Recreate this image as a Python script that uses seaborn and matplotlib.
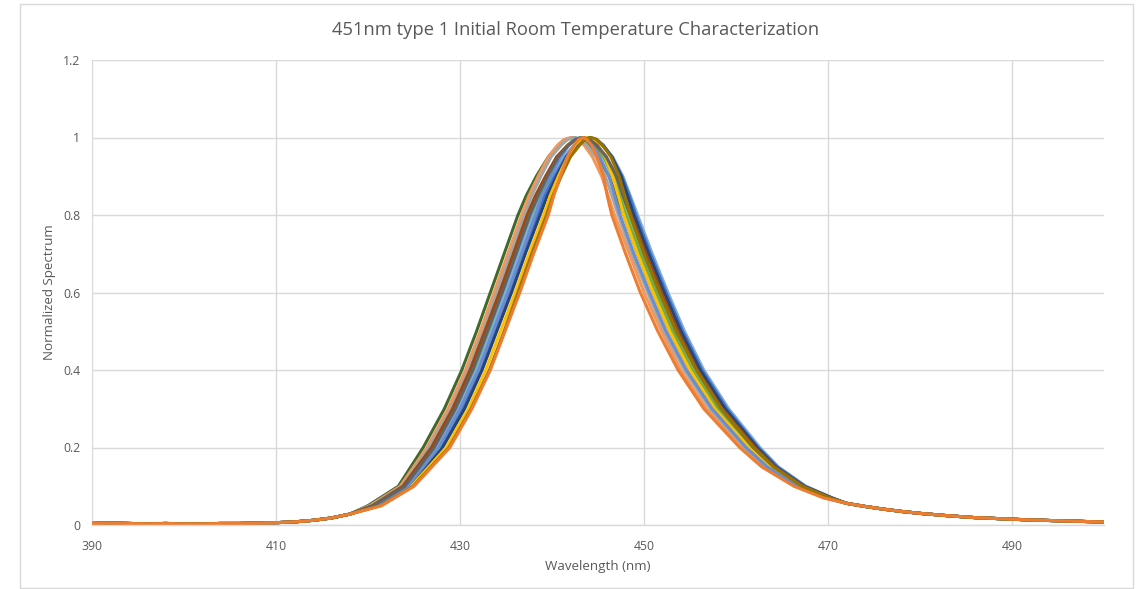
import matplotlib
matplotlib.use("Agg")
import matplotlib.pyplot as plt
import seaborn as sns
import pandas as pd

# ---- data ----
# shared tails (all spectra coincide there)
tail_left_wl = [390, 392, 394, 396, 398, 400, 402, 404, 406, 408, 410, 412, 414, 416, 418]
tail_left_v = [0.004, 0.005, 0.004, 0.003, 0.004, 0.003, 0.003, 0.004, 0.004, 0.005, 0.006, 0.008, 0.012, 0.018, 0.028]
tail_right_wl = [472, 474, 476, 478, 480, 483, 486, 489, 492, 495, 498, 500]
tail_right_v = [0.056, 0.048, 0.041, 0.035, 0.030, 0.024, 0.019, 0.016, 0.013, 0.011, 0.009, 0.008]

# normalized levels at which each spectrum's wavelength was read (rising edge, peak, falling edge)
levels = [0.05, 0.1, 0.2, 0.3, 0.4, 0.5, 0.6, 0.7, 0.8, 0.85, 0.9, 0.95, 0.98, 0.995, 1.0,
          0.995, 0.98, 0.95, 0.9, 0.85, 0.8, 0.7, 0.6, 0.5, 0.4, 0.3, 0.2, 0.15, 0.1, 0.07]

wl_s1 = [420.0, 423.3, 426.0, 428.3, 430.2, 431.8, 433.3, 434.8, 436.3, 437.2, 438.3, 439.6, 440.7, 441.5, 442.35,
         443.2, 444.0, 445.0, 446.2, 447.0, 447.8, 449.3, 451.0, 452.8, 455.0, 457.7, 461.4, 463.6, 466.9, 470.0]
wl_s2 = [420.2, 423.5, 426.4, 428.7, 430.6, 432.2, 433.7, 435.2, 436.7, 437.5, 438.5, 439.6, 440.6, 441.3, 442.05,
         442.8, 443.5, 444.4, 445.4, 446.1, 446.8, 448.4, 450.0, 451.9, 454.0, 456.8, 460.7, 463.0, 466.5, 469.6]
wl_s3 = [420.3, 423.7, 426.6, 429.0, 430.9, 432.5, 434.0, 435.5, 437.0, 437.8, 438.8, 439.9, 441.0, 441.7, 442.4,
         443.1, 443.8, 444.8, 445.8, 446.5, 447.2, 448.7, 450.4, 452.2, 454.4, 457.2, 461.0, 463.3, 466.6, 469.8]
wl_s4 = [420.5, 423.9, 427.0, 429.4, 431.3, 432.9, 434.4, 435.9, 437.5, 438.3, 439.4, 440.6, 441.7, 442.4, 443.15,
         443.9, 444.7, 445.6, 446.7, 447.5, 448.2, 449.7, 451.4, 453.2, 455.4, 458.1, 461.7, 463.9, 467.1, 470.1]
wl_s5 = [420.7, 424.1, 427.3, 429.7, 431.6, 433.2, 434.7, 436.2, 437.8, 438.6, 439.6, 440.7, 441.8, 442.5, 443.2,
         443.9, 444.6, 445.6, 446.6, 447.3, 448.0, 449.6, 451.3, 453.1, 455.2, 458.0, 461.6, 463.8, 467.0, 470.0]
wl_s6 = [420.8, 424.2, 427.5, 429.8, 431.8, 433.4, 434.9, 436.4, 438.0, 438.9, 440.0, 441.2, 442.4, 443.2, 444.0,
         444.8, 445.5, 446.6, 447.7, 448.5, 449.3, 450.9, 452.6, 454.4, 456.5, 459.2, 462.6, 464.6, 467.6, 470.5]
wl_s7 = [420.9, 424.4, 427.8, 430.2, 432.1, 433.7, 435.3, 436.8, 438.4, 439.2, 440.3, 441.5, 442.6, 443.3, 444.05,
         444.8, 445.6, 446.5, 447.6, 448.4, 449.1, 450.7, 452.4, 454.2, 456.3, 459.0, 462.4, 464.5, 467.5, 470.4]
wl_s8 = [421.1, 424.5, 428.1, 430.5, 432.4, 434.0, 435.6, 437.1, 438.7, 439.5, 440.5, 441.6, 442.7, 443.4, 444.1,
         444.8, 445.5, 446.5, 447.5, 448.2, 448.9, 450.5, 452.2, 454.0, 456.1, 458.8, 462.3, 464.3, 467.4, 470.4]
wl_s9 = [420.5, 423.8, 426.9, 429.2, 431.1, 432.7, 434.3, 435.8, 437.3, 438.2, 439.3, 440.5, 441.7, 442.5, 443.25,
         444.1, 444.8, 445.9, 447.0, 447.8, 448.6, 450.2, 451.9, 453.7, 455.8, 458.5, 462.1, 464.2, 467.3, 470.3]
wl_s10 = [421.3, 424.7, 428.5, 430.9, 432.8, 434.4, 436.0, 437.5, 439.1, 439.8, 440.7, 441.7, 442.5, 443.1, 443.75,
          444.4, 445.0, 445.8, 446.6, 447.2, 447.8, 449.3, 451.0, 452.8, 455.0, 457.7, 461.4, 463.6, 466.9, 470.0]
wl_s11 = [420.9, 424.3, 427.7, 430.0, 432.0, 433.6, 435.2, 436.7, 438.2, 438.9, 439.9, 440.9, 441.8, 442.5, 443.1,
          443.8, 444.4, 445.2, 446.2, 446.8, 447.4, 448.9, 450.6, 452.4, 454.6, 457.4, 461.1, 463.4, 466.7, 469.8]
wl_s12 = [420.6, 424.0, 427.2, 429.5, 431.4, 433.0, 434.6, 436.1, 437.6, 438.5, 439.5, 440.7, 441.8, 442.6, 443.35,
          444.1, 444.9, 445.9, 447.0, 447.7, 448.5, 450.0, 451.7, 453.5, 455.7, 458.4, 461.9, 464.1, 467.2, 470.2]
wl_s13 = [421.4, 424.9, 428.8, 431.2, 433.2, 434.8, 436.3, 437.8, 439.4, 440.1, 441.0, 442.0, 443.0, 443.6, 444.25,
          444.9, 445.5, 446.4, 447.3, 447.9, 448.5, 450.0, 451.7, 453.5, 455.7, 458.4, 461.9, 464.1, 467.2, 470.2]
wl_s14 = [421.5, 425.0, 428.9, 431.3, 433.3, 434.9, 436.5, 438.0, 439.6, 440.2, 440.9, 441.7, 442.4, 442.9, 443.35,
          443.8, 444.3, 444.9, 445.6, 446.0, 446.5, 448.0, 449.6, 451.5, 453.7, 456.5, 460.4, 462.8, 466.3, 469.5]

series_names = ["s1", "s2", "s3", "s4", "s5", "s6", "s7", "s8", "s9", "s10", "s11", "s12", "s13", "s14"]
series_wl = [wl_s1, wl_s2, wl_s3, wl_s4, wl_s5, wl_s6, wl_s7, wl_s8, wl_s9, wl_s10,
             wl_s11, wl_s12, wl_s13, wl_s14]
series_colors = ["#43682B", "#F1975A", "#A5A5A5", "#8CC168", "#70AD47", "#7CAFDD",
                 "#4472C4", "#264478", "#9E480E", "#FFC000", "#698ED0", "#636363",
                 "#997300", "#ED7D31"]

x_ticks = [390, 410, 430, 450, 470, 490]
y_ticks = [0, 0.2, 0.4, 0.6, 0.8, 1.0, 1.2]
y_tick_labels = ["0", "0.2", "0.4", "0.6", "0.8", "1", "1.2"]

title = "451nm type 1 Initial Room Temperature Characterization"
x_label = "Wavelength (nm)"
y_label = "Normalized Spectrum"

# ---- build table ----
frames = []
for name, wl in zip(series_names, series_wl):
    frames.append(pd.DataFrame({
        "wl": tail_left_wl + wl + tail_right_wl,
        "v": tail_left_v + levels + tail_right_v,
        "series": name,
    }))
df = pd.concat(frames, ignore_index=True)

# ---- draw ----
sns.set_theme(style="white")
plt.rcParams["font.family"] = ["Open Sans", "DejaVu Sans"]

W, H = 1141, 589
fig = plt.figure(figsize=(W / 100, H / 100), dpi=100)
fig.patch.set_facecolor("white")
ax = fig.add_axes([92 / W, (H - 525) / H, (1104 - 92) / W, (525 - 60) / H])

# chart area border
fig.patches.append(plt.Rectangle((20 / W, 1 / H), (1133 - 20) / W, (585 - 1) / H,
                                 transform=fig.transFigure, fill=False,
                                 edgecolor="#D9D9D9", linewidth=1.0))

sns.lineplot(data=df, x="wl", y="v", hue="series", hue_order=series_names,
             palette=series_colors, sort=False, estimator=None, legend=False,
             linewidth=2.2, ax=ax)

ax.set_xlim(390, 500)
ax.set_ylim(0, 1.2)
ax.set_xticks(x_ticks)
ax.set_yticks(y_ticks)
ax.set_yticklabels(y_tick_labels)
ax.grid(True, color="#D9D9D9", linewidth=1.0)
ax.set_axisbelow(True)
for s in ["top", "right", "left"]:
    ax.spines[s].set_visible(False)
ax.spines["bottom"].set_color("#D9D9D9")
ax.spines["bottom"].set_linewidth(1.0)
ax.tick_params(axis="both", length=0, labelsize=8.8, labelcolor="#595959")
ax.tick_params(axis="x", pad=10.5)
ax.tick_params(axis="y", pad=8.5)

ax.set_xlabel(x_label, fontsize=9.6, color="#595959", labelpad=5)
ax.set_ylabel(y_label, fontsize=9.6, color="#595959", labelpad=5)
fig.text(576 / W, 1 - 30 / H, title, ha="center", va="center", fontsize=13.2, color="#595959")

fig.savefig("out.png", dpi=100, facecolor="white")
